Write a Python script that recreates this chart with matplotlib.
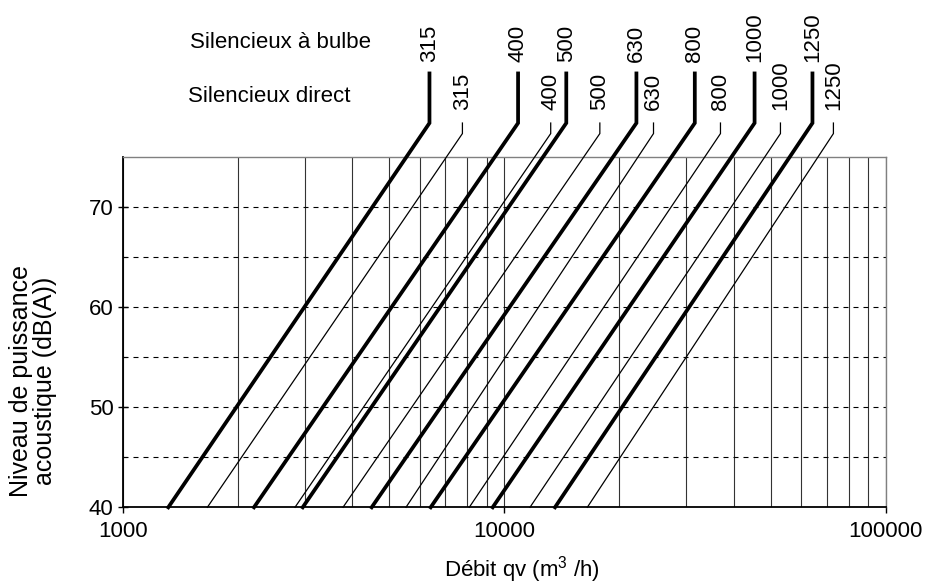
import numpy as np
import matplotlib.pyplot as plt
from matplotlib.ticker import FixedLocator, NullFormatter

plt.rcParams['font.family'] = ['Liberation Sans', 'DejaVu Sans']
plt.rcParams['mathtext.default'] = 'regular'

# nominal sizes of the silencers
sizes = [315, 400, 500, 630, 800, 1000, 1250]

# airflow (m3/h) at 40 dB(A) and at 75 dB(A)
bulbe_q40 = [1317, 2209, 2964, 4494, 6417, 9330, 13590]
bulbe_q75 = [5551, 9461, 12660, 19320, 27490, 39480, 56120]
direct_q40 = [1667, 2829, 3780, 5528, 8100, 11685, 16515]
direct_q75 = [7068, 12040, 16190, 22460, 33600, 48270, 66560]

y_low, y_high = 40, 75
yticks = [40, 50, 60, 70]
yminor = [45, 55, 65]
xticks = [1000, 10000, 100000]

fig = plt.figure(figsize=(9.28, 5.85), dpi=100)
ax = fig.add_axes([0.1322, 0.1328, 0.8222, 0.5995])
ax.set_xscale('log')
ax.set_xlim(1000, 100000)
ax.set_ylim(y_low, y_high)


def draw_line(q40, q75, size, thick):
    # straight line in log-x, then a leader above the plot and the label
    l0, l1 = np.log10(q40), np.log10(q75)
    slope = (l1 - l0) / (y_high - y_low)
    if thick:
        y_knee, y_top, y_text, lw = 78.35, 83.3, 84.4, 2.7
    else:
        y_knee, y_top, y_text, lw = 77.3, 78.35, 79.65, 0.9
    qk = 10 ** (l1 + (y_knee - y_high) * slope)
    ax.plot([q40, q75, qk, qk], [y_low, y_high, y_knee, y_top],
            color='black', lw=lw, clip_on=False, zorder=5,
            solid_joinstyle='miter')
    ax.text(qk, y_text, str(size), rotation=90, ha='center', va='bottom',
            fontsize=16, clip_on=False)


for i, s in enumerate(sizes):
    draw_line(bulbe_q40[i], bulbe_q75[i], s, True)
    draw_line(direct_q40[i], direct_q75[i], s, False)

ax.set_xticks(xticks)
ax.set_xticklabels([str(v) for v in xticks])
ax.xaxis.set_minor_formatter(NullFormatter())
ax.set_yticks(yticks)
ax.yaxis.set_minor_locator(FixedLocator(yminor))

ax.grid(which='both', axis='x', color='#333333', lw=0.8, ls='-')
ax.grid(which='both', axis='y', color='black', lw=0.8, ls=(0, (4.5, 4.5)))
ax.set_axisbelow(True)

ax.tick_params(axis='x', which='major', direction='out', length=4,
               width=1, labelsize=16, pad=6)
ax.tick_params(axis='x', which='minor', length=0)
ax.tick_params(axis='y', which='major', direction='inout', length=7,
               width=1, labelsize=16, pad=3)
ax.tick_params(axis='y', which='minor', direction='in', length=3, width=0.8)

for side in ['left', 'bottom']:
    ax.spines[side].set_color('black')
    ax.spines[side].set_linewidth(1.3)
for side in ['top', 'right']:
    ax.spines[side].set_color('#808080')
    ax.spines[side].set_linewidth(1.0)

fig.text(33 / 928, 1 - 381 / 585, 'Niveau de puissance\nacoustique (dB(A))',
         rotation=90, ha='center', va='center', multialignment='center',
         fontsize=18, linespacing=0.95)
fig.text(522 / 928, 1 - 570 / 585, r'Débit qv (m$^{3}$ /h)',
         ha='center', va='center', fontsize=16)
fig.text(190 / 928, 1 - 43 / 585, 'Silencieux à bulbe',
         ha='left', va='center', fontsize=16)
fig.text(188 / 928, 1 - 97 / 585, 'Silencieux direct',
         ha='left', va='center', fontsize=16)

fig.savefig('out.png', dpi=100)
